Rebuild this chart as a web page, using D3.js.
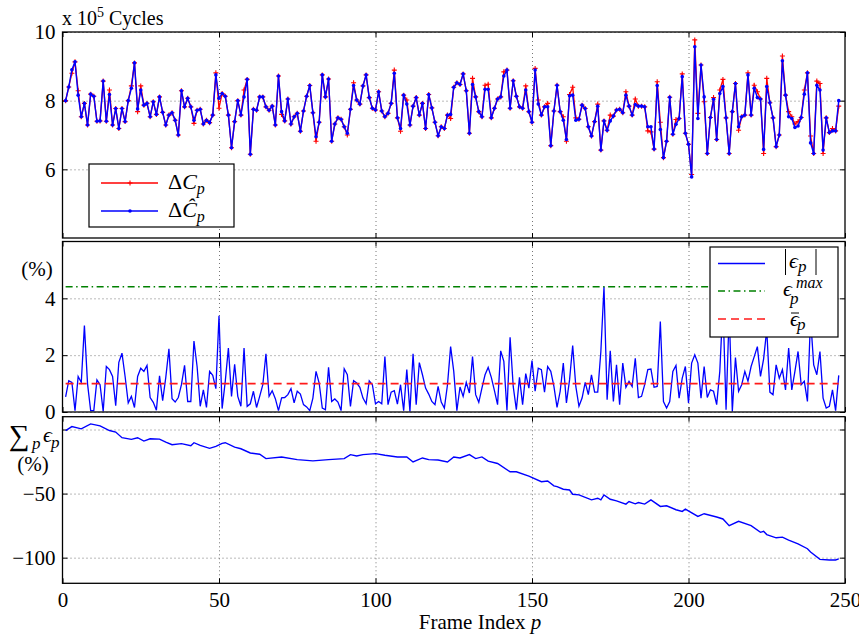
<!DOCTYPE html>
<meta charset="utf-8">
<style>
body { margin: 0; background: #fff; }
.grid line { stroke: #666; stroke-width: 0.9; stroke-dasharray: 1,3; }
.grid path, .ax path { display: none; }
.ax line { stroke: #000; stroke-width: 1; }
.math { font-style: italic; }
</style>
<body>
<script src="https://cdn.jsdelivr.net/npm/d3@7"></script>
<script>

// frame index p
var frames = d3.range(1, 249);

// top panel: cycles (x 10^5), measured (red) and estimated (blue)
var cyclesEst = [
  8.0, 8.4, 8.9, 9.13, 8.16, 7.53, 7.92, 7.29, 8.19, 8.13,
  7.4, 7.41, 8.57, 7.4, 8.18, 7.29, 7.77, 7.19, 7.77, 7.39,
  8.0, 8.36, 9.1, 7.76, 8.31, 7.87, 7.92, 7.53, 7.97, 7.6,
  8.11, 7.66, 7.29, 7.58, 7.65, 7.43, 7.0, 8.29, 7.82, 8.07,
  7.82, 7.43, 7.72, 7.75, 7.32, 7.43, 7.36, 7.58, 8.75, 8.07,
  8.21, 8.13, 7.58, 6.63, 7.39, 8.0, 7.58, 8.11, 8.62, 6.44,
  7.75, 7.72, 8.11, 8.11, 7.82, 7.72, 7.84, 7.29, 8.72, 7.68,
  7.41, 8.05, 7.32, 7.53, 7.63, 7.11, 7.70, 8.13, 8.44, 7.65,
  6.95, 7.37, 8.75, 8.11, 8.63, 6.82, 7.32, 7.5, 7.46, 7.24,
  7.05, 7.75, 8.44, 8.02, 7.9, 8.43, 8.75, 8.09, 7.78, 7.73,
  8.26, 7.7, 7.53, 7.63, 7.92, 8.8, 7.5, 7.19, 8.16, 7.9,
  7.29, 7.84, 8.09, 7.58, 7.92, 7.19, 8.18, 7.79, 7.37, 6.98,
  7.24, 7.19, 7.58, 7.6, 8.39, 8.52, 8.47, 8.78, 8.29, 7.05,
  8.47, 8.11, 7.68, 7.53, 8.33, 8.33, 7.5, 7.78, 8.05, 8.11,
  8.72, 8.89, 7.78, 8.58, 8.13, 7.82, 7.78, 8.31, 7.68, 7.37,
  8.89, 7.9, 7.58, 7.82, 7.82, 6.69, 7.7, 8.45, 7.68, 7.43,
  6.87, 8.14, 8.16, 7.43, 7.46, 7.87, 7.77, 7.24, 6.97, 7.39,
  7.84, 6.56, 7.41, 7.14, 7.41, 7.55, 7.73, 7.75, 7.65, 8.16,
  7.84, 7.58, 7.89, 7.84, 7.84, 7.82, 7.24, 7.24, 6.59, 8.44,
  7.16, 6.34, 6.82, 8.1, 7.02, 7.31, 7.48, 8.7, 7.05, 6.73,
  5.78, 9.57, 7.48, 9.04, 8.11, 6.46, 7.51, 8.04, 6.87, 8.21,
  8.41, 7.5, 6.46, 7.68, 8.5, 7.24, 7.53, 7.58, 8.75, 7.58,
  8.36, 8.09, 8.05, 6.58, 8.41, 7.94, 7.5, 6.66, 7.0, 9.16,
  8.16, 7.53, 7.48, 7.22, 7.26, 7.51, 8.19, 8.81, 6.77, 6.46,
  8.45, 8.31, 6.56, 7.5, 7.07, 7.12, 7.12, 8.0
];
var cyclesMeas = [
  8.0, 8.4, 8.8, 9.13, 8.29, 7.53, 7.92, 7.29, 8.19, 8.13,
  7.4, 7.41, 8.57, 7.4, 8.31, 7.29, 7.77, 7.19, 7.77, 7.39,
  8.0, 8.43, 9.1, 7.68, 8.43, 7.87, 7.92, 7.53, 7.97, 7.6,
  8.11, 7.66, 7.29, 7.58, 7.65, 7.43, 7.0, 8.29, 7.82, 8.07,
  7.82, 7.34, 7.72, 7.75, 7.32, 7.43, 7.36, 7.58, 8.81, 7.78,
  8.21, 8.13, 7.58, 6.63, 7.39, 8.0, 7.58, 8.31, 8.62, 6.44,
  7.75, 7.72, 8.11, 8.11, 7.82, 7.72, 7.84, 7.29, 8.72, 7.6,
  7.41, 8.05, 7.32, 7.53, 7.63, 7.11, 7.70, 8.13, 8.44, 7.65,
  6.82, 7.37, 8.75, 8.11, 8.63, 6.82, 7.32, 7.5, 7.46, 7.24,
  7.0, 7.75, 8.52, 8.02, 7.9, 8.43, 8.75, 8.09, 7.78, 7.73,
  8.26, 7.7, 7.53, 7.63, 7.92, 8.89, 7.5, 7.11, 8.16, 8.02,
  7.29, 7.84, 8.09, 7.58, 7.92, 7.19, 8.18, 7.79, 7.37, 6.98,
  7.24, 7.19, 7.58, 7.48, 8.39, 8.52, 8.47, 8.78, 8.29, 7.05,
  8.65, 8.11, 7.68, 7.53, 8.45, 8.48, 7.5, 7.78, 8.05, 8.11,
  8.84, 8.89, 7.78, 8.58, 8.13, 7.82, 7.78, 8.43, 7.68, 7.37,
  8.94, 8.02, 7.58, 7.82, 7.92, 6.69, 7.7, 8.45, 7.68, 7.53,
  6.82, 8.18, 8.39, 7.5, 7.46, 7.87, 7.77, 7.24, 6.97, 7.39,
  7.9, 6.56, 7.41, 7.14, 7.58, 7.55, 7.73, 7.75, 7.65, 8.26,
  7.84, 7.58, 8.05, 7.84, 7.84, 7.82, 7.12, 7.09, 6.59, 8.55,
  7.37, 6.34, 6.82, 8.1, 7.02, 7.45, 7.48, 8.78, 7.05, 6.73,
  5.85, 9.77, 7.63, 9.04, 7.97, 6.46, 7.51, 8.09, 6.87, 8.31,
  8.62, 7.5, 6.46, 7.68, 8.5, 7.14, 7.53, 7.58, 8.81, 7.58,
  8.45, 8.26, 8.05, 6.46, 8.65, 7.94, 7.5, 6.66, 7.0, 9.3,
  8.16, 7.68, 7.53, 7.32, 7.39, 7.51, 8.31, 8.81, 6.97, 6.46,
  8.57, 8.5, 6.46, 7.5, 7.07, 7.19, 7.12, 7.84
];

// middle panel: |eps_p| (%)
var epsAbs = [
  0.53, 1.1, 1.04, 0.05, 1.25, 1.04, 3.04, 0.99, 0.05, 0.05,
  1.13, 0.96, 0.02, 1.6, 1.49, 1.25, 0.22, 1.75, 2.07, 1.25,
  0.32, 0.55, 0.16, 1.25, 1.54, 1.43, 1.64, 0.51, 0.34, 0.06,
  1.27, 0.4, 1.22, 2.22, 0.47, 0.35, 0.51, 0.96, 1.64, 0.37,
  0.37, 2.5, 1.6, 0.2, 0.78, 0.16, 1.43, 1.29, 0.82, 3.39,
  0.12, 1.08, 2.25, 0.55, 1.68, 0.55, 0.2, 2.25, 0.2, 0.29,
  0.73, 0.16, 0.55, 0.96, 2.05, 0.55, 0.75, 0.47, 0.05, 0.5,
  0.51, 0.61, 0.82, 0.32, 0.73, 0.63, 0.26, 0.18, 0.05, 0.49,
  1.43, 1.02, 0.14, 0.08, 1.57, 0.37, 0.46, 0.35, 0.05, 1.52,
  1.31, 0.2, 1.1, 1.02, 0.87, 0.49, 0.29, 1.1, 0.96, 0.29,
  0.37, 0.29, 1.95, 0.26, 0.7, 0.75, 0.28, 0.96, 0.05, 1.49,
  0.02, 2.05, 0.26, 1.74, 1.31, 0.84, 0.63, 0.37, 0.26, 0.9,
  0.35, 0.14, 0.96, 2.3, 1.43, 0.05, 0.88, 0.55, 1.04, 0.67,
  1.95, 0.61, 0.34, 0.84, 1.31, 1.57, 1.22, 0.75, 0.26, 2.15,
  1.78, 0.05, 2.63, 0.9, 0.08, 1.22, 0.26, 1.35, 0.84, 1.81,
  0.73, 1.54, 1.49, 0.7, 1.6, 1.43, 0.9, 0.16, 0.73, 1.72,
  0.32, 1.13, 2.34, 0.9, 0.2, 0.49, 1.04, 0.61, 1.31, 0.7,
  0.7, 2.13, 4.41, 0.43, 2.15, 0.37, 1.66, 0.26, 1.72, 0.87,
  1.08, 0.9, 1.89, 0.51, 0.55, 0.96, 1.49, 1.51, 0.87, 0.9,
  3.18, 0.37, 0.14, 0.37, 1.43, 1.64, 0.49, 1.19, 1.6, 0.32,
  1.72, 2.01, 1.72, 0.49, 1.6, 0.51, 0.78, 0.73, 0.26, 1.43,
  3.8, 0.08, 3.5, 0.02, 1.92, 0.73, 0.96, 1.43, 1.08, 1.6,
  1.95, 2.3, 1.25, 1.87, 2.9, 0.7, 0.61, 1.66, 1.19, 1.49,
  0.78, 2.25, 0.78, 1.43, 2.13, 0.96, 1.08, 0.37, 3.3, 1.66,
  1.31, 2.13, 0.49, 0.14, 0.2, 0.78, 0.05, 1.29
];
var epsMax = 4.41;
var epsMean = 1.0;

// bottom panel: sum_p eps_p (%)
var sumFrames = [1, 3, 6, 9, 12, 15, 17, 19, 22, 24, 26, 28, 31, 33, 35, 38, 41, 42, 44, 47,
  49, 51, 52, 55, 57, 60, 63, 65, 70, 75, 80, 85, 90, 92, 94, 96, 100, 103, 107, 110,
  112, 115, 117, 120, 123, 125, 127, 130, 132, 134, 136, 139, 143, 145, 149, 153, 155, 157, 158, 160,
  162, 163, 165, 169, 171, 172, 173, 175, 177, 180, 181, 183, 184, 186, 188, 191, 193, 196, 198, 199,
  203, 205, 209, 211, 213, 216, 220, 223, 224, 225, 228, 230, 232, 235, 238, 239, 242, 245, 247, 248];
var sumValues = [-0.8, 2.3, 0.5, 4.4, 2.8, -0.8, -2, -6.4, -7.7, -6.4, -9, -7.2, -7.5, -9.8, -11.9, -11, -12.6, -10.3, -12.4, -14.7,
  -13.1, -10.8, -10.3, -13.7, -15, -18.3, -19.3, -22.7, -21.4, -23.5, -24.5, -23.5, -22.7, -19.6, -20.6, -19.6, -18.8, -20.1, -21.4, -21.4,
  -25.3, -22.2, -23.5, -23.8, -25.3, -21.4, -22.2, -19.6, -22.7, -21.4, -24.7, -26.5, -33, -33, -36.3, -40.7, -40.2, -44, -44.6, -46.6,
  -47.2, -50.5, -51, -54.9, -53.6, -54.9, -51, -54.4, -55.7, -58.2, -56.2, -58, -57, -58.2, -54.9, -60, -59.5, -62.6, -63.9, -62.1,
  -67.8, -65.7, -68.3, -69.8, -75, -71.6, -75, -80.2, -79.4, -82, -84.5, -84, -86.3, -89.2, -93, -95.6, -101.3, -101.8, -101.8, -101];

var xTicks = [0, 50, 100, 150, 200, 250];

var FONT = "'Liberation Serif', 'Times New Roman', 'DejaVu Serif', serif";
var x0 = 62.5, x1 = 845;
var x = d3.scaleLinear().domain([0, 250]).range([x0, x1]);
var yTop = d3.scaleLinear().domain([4, 10]).range([238, 32]);
var yMid = d3.scaleLinear().domain([0, 6]).range([412, 241.5]);
var yBot = d3.scaleLinear().domain([-120, 10]).range([583.3, 416.7]);

var svg = d3.select("body").append("svg")
    .attr("width", 859)
    .attr("height", 639);

// grid, ticks and box of one panel
function panel(y, yTicks, yLabel, xLabels) {
  var b = y.range()[0], t = y.range()[1];
  var g = svg.append("g");
  g.append("rect").attr("x", x0).attr("y", t).attr("width", x1 - x0).attr("height", b - t).attr("fill", "#fff");
  g.append("g").attr("class", "grid")
      .attr("transform", "translate(0," + b + ")")
      .call(d3.axisBottom(x).tickValues(xTicks.slice(1, -1)).tickSize(-(b - t)).tickFormat(""));
  g.append("g").attr("class", "grid")
      .attr("transform", "translate(" + x0 + ",0)")
      .call(d3.axisLeft(y).tickValues(yTicks).tickSize(-(x1 - x0)).tickFormat(""));
  g.append("g").attr("class", "ax")
      .attr("transform", "translate(" + x0 + ",0)")
      .call(d3.axisLeft(y).tickValues(yTicks).tickSize(-5).tickPadding(7).tickFormat(yLabel));
  g.append("g").attr("class", "ax")
      .attr("transform", "translate(" + x1 + ",0)")
      .call(d3.axisRight(y).tickValues(yTicks).tickSize(-5).tickFormat(""));
  g.append("g").attr("class", "ax")
      .attr("transform", "translate(0," + t + ")")
      .call(d3.axisTop(x).tickValues(xTicks).tickSize(-5).tickFormat(""));
  g.append("g").attr("class", "ax")
      .attr("transform", "translate(0," + b + ")")
      .call(d3.axisBottom(x).tickValues(xTicks).tickSize(-5).tickPadding(9)
        .tickFormat(xLabels ? d3.format("d") : ""));
  return g;
}
function border(y) {
  var b = y.range()[0], t = y.range()[1];
  svg.append("rect").attr("x", x0).attr("y", t).attr("width", x1 - x0).attr("height", b - t)
      .attr("fill", "none").attr("stroke", "#000").attr("stroke-width", 1.3);
}

var minus = function(d) { return d < 0 ? "\u2212" + Math.abs(d) : d; };

// ---------- top panel ----------
panel(yTop, [6, 8, 10], d3.format("d"), false);

var lineTop = function(vals) {
  return d3.line().x(function(d, i) { return x(frames[i]); }).y(function(d) { return yTop(d); })(vals);
};
svg.append("path").attr("d", lineTop(cyclesMeas)).attr("fill", "none").attr("stroke", "#ff0000").attr("stroke-width", 1.3);
svg.append("g").selectAll("path").data(cyclesMeas).enter().append("path")
    .attr("d", function(d, i) { var px = x(frames[i]), py = yTop(d);
      return "M" + (px - 2.5) + "," + py + "H" + (px + 2.5) + "M" + px + "," + (py - 2.5) + "V" + (py + 2.5); })
    .attr("stroke", "#ff0000").attr("stroke-width", 1.1);
svg.append("path").attr("d", lineTop(cyclesEst)).attr("fill", "none").attr("stroke", "#0000ff").attr("stroke-width", 1.4);
svg.append("g").selectAll("circle").data(cyclesEst).enter().append("circle")
    .attr("cx", function(d, i) { return x(frames[i]); })
    .attr("cy", function(d) { return yTop(d); })
    .attr("r", 1.8).attr("fill", "#0000ff");
border(yTop);

var cyc = svg.append("text").attr("x", 62).attr("y", 25).attr("font-size", 20);
cyc.append("tspan").text("x 10");
cyc.append("tspan").attr("dy", -8).attr("font-size", 14).text("5");
cyc.append("tspan").attr("dy", 8).text(" Cycles");

// legend top
var lg = svg.append("g");
lg.append("rect").attr("x", 89).attr("y", 164).attr("width", 145).attr("height", 63)
    .attr("fill", "#fff").attr("stroke", "#000").attr("stroke-width", 1.2);
lg.append("line").attr("x1", 101).attr("x2", 158).attr("y1", 183).attr("y2", 183).attr("stroke", "#ff0000").attr("stroke-width", 1.3);
lg.append("path").attr("d", "M127.5,183H132.5M130,180.5V185.5").attr("stroke", "#ff0000").attr("stroke-width", 1.1);
lg.append("line").attr("x1", 101).attr("x2", 158).attr("y1", 211).attr("y2", 211).attr("stroke", "#0000ff").attr("stroke-width", 1.4);
lg.append("circle").attr("cx", 130).attr("cy", 211).attr("r", 1.8).attr("fill", "#0000ff");
var t1 = lg.append("text").attr("x", 168).attr("y", 189).attr("font-size", 22);
t1.append("tspan").text("\u0394");
t1.append("tspan").attr("class", "math").text("C");
t1.append("tspan").attr("class", "math").attr("font-size", 16).attr("dy", 5).text("p");
var t2 = lg.append("text").attr("x", 168).attr("y", 217).attr("font-size", 22);
t2.append("tspan").text("\u0394");
t2.append("tspan").attr("class", "math").text("\u0108");
t2.append("tspan").attr("class", "math").attr("font-size", 16).attr("dy", 5).text("p");

// ---------- middle panel ----------
panel(yMid, [0, 2, 4], d3.format("d"), false);
svg.append("path")
    .attr("d", d3.line().x(function(d, i) { return x(frames[i]); }).y(function(d) { return yMid(d); })(epsAbs))
    .attr("fill", "none").attr("stroke", "#0000ff").attr("stroke-width", 1.3);
svg.append("line").attr("x1", x(1)).attr("x2", x(248)).attr("y1", yMid(epsMax)).attr("y2", yMid(epsMax))
    .attr("stroke", "#008000").attr("stroke-width", 1.4).attr("stroke-dasharray", "7,3.5,1.5,3.5");
svg.append("line").attr("x1", x(1)).attr("x2", x(248)).attr("y1", yMid(epsMean)).attr("y2", yMid(epsMean))
    .attr("stroke", "#ff1a1a").attr("stroke-width", 1.6).attr("stroke-dasharray", "8,5");
border(yMid);
svg.append("text").attr("x", 37).attr("y", 276).attr("font-size", 21).attr("text-anchor", "middle").text("(%)");

// legend middle
var lm = svg.append("g");
lm.append("rect").attr("x", 710).attr("y", 247).attr("width", 128).attr("height", 90)
    .attr("fill", "#fff").attr("stroke", "#000").attr("stroke-width", 1.2);
lm.append("line").attr("x1", 718).attr("x2", 765).attr("y1", 263.5).attr("y2", 263.5).attr("stroke", "#0000ff").attr("stroke-width", 1.3);
lm.append("line").attr("x1", 718).attr("x2", 765).attr("y1", 291).attr("y2", 291).attr("stroke", "#008000").attr("stroke-width", 1.4).attr("stroke-dasharray", "7,3.5,1.5,3.5");
lm.append("line").attr("x1", 718).attr("x2", 765).attr("y1", 319).attr("y2", 319).attr("stroke", "#ff1a1a").attr("stroke-width", 1.6).attr("stroke-dasharray", "8,5");
// |eps_p|
lm.append("line").attr("x1", 785.5).attr("x2", 785.5).attr("y1", 249).attr("y2", 275).attr("stroke", "#000").attr("stroke-width", 1);
lm.append("line").attr("x1", 816).attr("x2", 816).attr("y1", 249).attr("y2", 275).attr("stroke", "#000").attr("stroke-width", 1);
var m1 = lm.append("text").attr("x", 789).attr("y", 268).attr("font-size", 22);
m1.append("tspan").attr("class", "math").text("\u03f5");
m1.append("tspan").attr("class", "math").attr("font-size", 17).attr("dy", 4).text("p");
// eps_p^max
lm.append("text").attr("x", 783).attr("y", 296).attr("font-size", 22).attr("class", "math").text("\u03f5");
lm.append("text").attr("x", 796).attr("y", 288).attr("font-size", 16).attr("class", "math").text("max");
lm.append("text").attr("x", 790).attr("y", 304).attr("font-size", 17).attr("class", "math").text("p");
// mean eps_p
lm.append("text").attr("x", 790).attr("y", 326).attr("font-size", 22).attr("class", "math").text("\u03f5");
lm.append("line").attr("x1", 791).attr("x2", 799).attr("y1", 313).attr("y2", 313).attr("stroke", "#000").attr("stroke-width", 1);
lm.append("text").attr("x", 797).attr("y", 330).attr("font-size", 17).attr("class", "math").text("p");

// ---------- bottom panel ----------
panel(yBot, [-100, -50, 0], function(d) { return d === 0 ? "" : minus(d); }, true);
svg.append("path")
    .attr("d", d3.line().x(function(d, i) { return x(sumFrames[i]); }).y(function(d) { return yBot(d); })(sumValues))
    .attr("fill", "none").attr("stroke", "#0000ff").attr("stroke-width", 1.4);
border(yBot);

svg.append("text").attr("x", 9).attr("y", 445).attr("font-size", 29).text("\u2211");
svg.append("text").attr("x", 32).attr("y", 449).attr("font-size", 17).attr("class", "math").text("p");
svg.append("text").attr("x", 43).attr("y", 442).attr("font-size", 22).attr("class", "math").text("\u03f5");
svg.append("text").attr("x", 51).attr("y", 448).attr("font-size", 17).attr("class", "math").text("p");
svg.append("text").attr("x", 33).attr("y", 471).attr("font-size", 21).attr("text-anchor", "middle").text("(%)");

var xl = svg.append("text").attr("x", 480).attr("y", 629).attr("font-size", 21).attr("text-anchor", "middle");
xl.append("tspan").text("Frame Index  ");
xl.append("tspan").attr("class", "math").text("p");

// all text in a Times-like serif face
svg.selectAll("g.ax").attr("font-family", null).attr("font-size", null);
svg.selectAll("text").style("font-family", FONT);
svg.selectAll("g.ax text").style("font-size", "21px").style("fill", "#000");

</script>
</body>
